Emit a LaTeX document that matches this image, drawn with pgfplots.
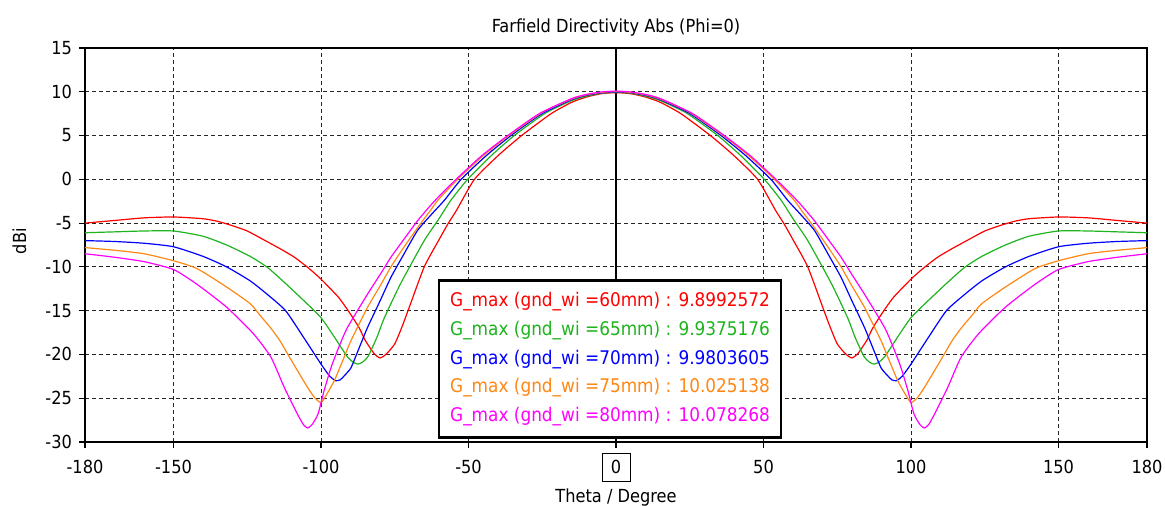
\documentclass[border=0pt]{standalone}
\usepackage{pgfplots}
\pgfplotsset{compat=1.18}
\usepackage{fontspec}
\setmainfont{DejaVu Sans Condensed}
\definecolor{cRed}{RGB}{255,0,0}
\definecolor{cGreen}{RGB}{30,180,30}
\definecolor{cBlue}{RGB}{0,0,255}
\definecolor{cOrange}{RGB}{255,135,20}
\definecolor{cMag}{RGB}{255,0,255}
\begin{document}
\begin{tikzpicture}
\path[use as bounding box] (-42.5pt,-32pt) rectangle (540pt,221pt);
\begin{axis}[at={(0pt,0pt)}, anchor=south west, scale only axis,
  width=531pt, height=197pt,
  xmin=-180, xmax=180, ymin=-30, ymax=15,
  xtick={-180,-150,-100,-50,50,100,150,180},
  extra x ticks={0},
  extra x tick style={grid style={solid, black, line width=1pt},
     major tick style={line width=1pt},
     xticklabel style={draw=black, line width=0.5pt, minimum width=14pt, minimum height=14pt, inner sep=0pt}},
  ytick={-30,-25,...,15},
  grid=major,
  grid style={black!85, line width=0.5pt, dash pattern=on 2pt off 1.5pt},
  axis line style={black, line width=0.6pt},
  tick align=outside, tick pos=left, major tick length=3pt,
  tick style={black, line width=0.6pt},
  /pgf/number format/assume math mode=true,
  /pgf/number format/1000 sep={},
  tick label style={font=\fontsize{9}{10}\selectfont},
  xticklabel style={anchor=base, yshift=-13pt},
  title={Farfield Directivity Abs (Phi=0)},
  title style={font=\fontsize{9}{10}\selectfont, at={(axis description cs:0.5,1.022)}, anchor=center},
  xlabel={Theta / Degree},
  xlabel style={font=\fontsize{9}{10}\selectfont, at={(axis description cs:0.5,-0.141)}, anchor=center},
  ylabel={dBi},
  ylabel style={font=\fontsize{9}{10}\selectfont, at={(axis description cs:-0.0617,0.51)}, anchor=center},
  every axis plot/.append style={line width=0.6pt, no markers, smooth, tension=0.35},
  clip=true,
]
% 60 mm
\addplot[cRed] coordinates {
(-180,-5.0) (-170,-4.7) (-160,-4.4) (-150,-4.3) (-140,-4.5) (-135,-4.8) (-130,-5.3) (-125,-5.9) (-120,-6.8) (-114,-7.9) (-109,-8.9) (-104,-10.2) (-100,-11.4) (-94,-13.5) (-90,-15.4) (-87,-17.0) (-85,-18.4) (-82,-19.9) (-80,-20.4) (-78,-20.0) (-75,-18.8) (-72.5,-16.8) (-70.5,-15.0) (-65,-10.0) (-60,-6.9) (-57,-5.1) (-54,-3.5) (-48,0) (-40,2.7) (-32,5.0) (-22,7.5) (-15,8.8) (-10,9.4) (-5,9.78) (0,9.9)
(5,9.78) (10,9.4) (15,8.8) (22,7.5) (32,5.0) (40,2.7) (48,0) (54,-3.5) (57,-5.1) (60,-6.9) (65,-10.0) (70.5,-15.0) (72.5,-16.8) (75,-18.8) (78,-20.0) (80,-20.4) (82,-19.9) (85,-18.4) (87,-17.0) (90,-15.4) (94,-13.5) (100,-11.4) (104,-10.2) (109,-8.9) (114,-7.9) (120,-6.8) (125,-5.9) (130,-5.3) (135,-4.8) (140,-4.5) (150,-4.3) (160,-4.4) (170,-4.7) (180,-5.0)
};
% 65 mm
\addplot[cGreen] coordinates {
(-180,-6.1) (-170,-6.0) (-160,-5.9) (-150,-5.9) (-140,-6.5) (-132,-7.5) (-124,-8.8) (-118,-10.1) (-112,-11.9) (-106,-13.8) (-100,-15.8) (-95.5,-18.0) (-91,-20.3) (-89,-20.9) (-87.5,-21.1) (-86,-20.9) (-84,-20.2) (-81,-18.0) (-78.5,-15.8) (-73,-11.9) (-65,-7.0) (-60,-4.5) (-56,-2.4) (-50.3,0) (-42,2.8) (-34.5,5.0) (-24,7.55) (-15,9.0) (-10,9.5) (-5,9.84) (0,9.94)
(5,9.84) (10,9.5) (15,9.0) (24,7.55) (34.5,5.0) (42,2.8) (50.3,0) (56,-2.4) (60,-4.5) (65,-7.0) (73,-11.9) (78.5,-15.8) (81,-18.0) (84,-20.2) (86,-20.9) (87.5,-21.1) (89,-20.9) (91,-20.3) (95.5,-18.0) (100,-15.8) (106,-13.8) (112,-11.9) (118,-10.1) (124,-8.8) (132,-7.5) (140,-6.5) (150,-5.9) (160,-5.9) (170,-6.0) (180,-6.1)
};
% 70 mm
\addplot[cBlue] coordinates {
(-180,-7.0) (-170,-7.1) (-160,-7.3) (-150,-7.7) (-140,-8.8) (-132,-10.0) (-124,-11.6) (-118,-13.2) (-112,-15.0) (-106,-18.0) (-100,-21.1) (-97,-22.5) (-95,-23.0) (-93.5,-22.9) (-92,-22.4) (-89.8,-21.5) (-87,-19.2) (-84.2,-16.9) (-80,-13.9) (-76.3,-11.2) (-72,-8.6) (-67.2,-5.8) (-62,-3.8) (-58.2,-2.4) (-52.5,0) (-44,2.7) (-35.6,5.0) (-25,7.52) (-15,9.1) (-10,9.59) (-5,9.88) (0,9.98)
(5,9.88) (10,9.59) (15,9.1) (25,7.52) (35.6,5.0) (44,2.7) (52.5,0) (58.2,-2.4) (62,-3.8) (67.2,-5.8) (72,-8.6) (76.3,-11.2) (80,-13.9) (84.2,-16.9) (87,-19.2) (89.8,-21.5) (92,-22.4) (93.5,-22.9) (95,-23.0) (97,-22.5) (100,-21.1) (106,-18.0) (112,-15.0) (118,-13.2) (124,-11.6) (132,-10.0) (140,-8.8) (150,-7.7) (160,-7.3) (170,-7.1) (180,-7.0)
};
% 75 mm
\addplot[cOrange] coordinates {
(-180,-7.8) (-170,-8.1) (-160,-8.5) (-150,-9.3) (-142,-10.2) (-132,-12.3) (-124,-14.2) (-121,-15.4) (-117,-17.0) (-114,-18.4) (-110,-20.7) (-104.5,-23.8) (-102,-25.0) (-100,-25.5) (-98.5,-24.8) (-95.5,-23.0) (-92.5,-20.6) (-89.8,-18.4) (-84.2,-14.6) (-80,-12.2) (-76.3,-10.0) (-72,-7.8) (-67.2,-5.5) (-63,-3.6) (-60.4,-2.4) (-53.7,0) (-45,2.7) (-36.3,5.0) (-25,7.64) (-15,9.17) (-10,9.65) (-5,9.93) (0,10.03)
(5,9.93) (10,9.65) (15,9.17) (25,7.64) (36.3,5.0) (45,2.7) (53.7,0) (60.4,-2.4) (63,-3.6) (67.2,-5.5) (72,-7.8) (76.3,-10.0) (80,-12.2) (84.2,-14.6) (89.8,-18.4) (92.5,-20.6) (95.5,-23.0) (98.5,-24.8) (100,-25.5) (102,-25.0) (104.5,-23.8) (110,-20.7) (114,-18.4) (117,-17.0) (121,-15.4) (124,-14.2) (132,-12.3) (142,-10.2) (150,-9.3) (160,-8.5) (170,-8.1) (180,-7.8)
};
% 80 mm
\addplot[cMag] coordinates {
(-180,-8.5) (-170,-8.9) (-160,-9.4) (-150,-10.3) (-142,-12.0) (-132,-14.6) (-123,-17.6) (-117,-20.3) (-112.4,-23.8) (-108,-26.8) (-106,-28.0) (-104.5,-28.4) (-103,-28.0) (-101,-26.8) (-99,-24.2) (-96.6,-21.5) (-94,-19.2) (-91,-16.9) (-84.2,-13.1) (-80,-10.9) (-76.3,-8.9) (-72,-6.9) (-67.2,-4.7) (-61.6,-2.5) (-54.2,0) (-45.5,2.7) (-36.7,5.0) (-26,7.5) (-15,9.23) (-10,9.7) (-5,9.98) (0,10.08)
(5,9.98) (10,9.7) (15,9.23) (26,7.5) (36.7,5.0) (45.5,2.7) (54.2,0) (61.6,-2.5) (67.2,-4.7) (72,-6.9) (76.3,-8.9) (80,-10.9) (84.2,-13.1) (91,-16.9) (94,-19.2) (96.6,-21.5) (99,-24.2) (101,-26.8) (103,-28.0) (104.5,-28.4) (106,-28.0) (108,-26.8) (112.4,-23.8) (117,-20.3) (123,-17.6) (132,-14.6) (142,-12.0) (150,-10.3) (160,-9.4) (170,-8.9) (180,-8.5)
};
\node[draw=black, line width=1.3pt, fill=white, anchor=center,
      minimum width=171pt, minimum height=78.5pt, inner sep=3pt,
      align=left,
      font=\fontsize{9.4}{14.4}\selectfont] at (axis cs:-2,-20.54)
  {\textcolor{cRed}{G\_max (gnd\_wi =60mm) : 9.8992572}\\
   \textcolor{cGreen}{G\_max (gnd\_wi =65mm) : 9.9375176}\\
   \textcolor{cBlue}{G\_max (gnd\_wi =70mm) : 9.9803605}\\
   \textcolor{cOrange}{G\_max (gnd\_wi =75mm) : 10.025138}\\
   \textcolor{cMag}{G\_max (gnd\_wi =80mm) : 10.078268}};
\end{axis}
\end{tikzpicture}
\end{document}
